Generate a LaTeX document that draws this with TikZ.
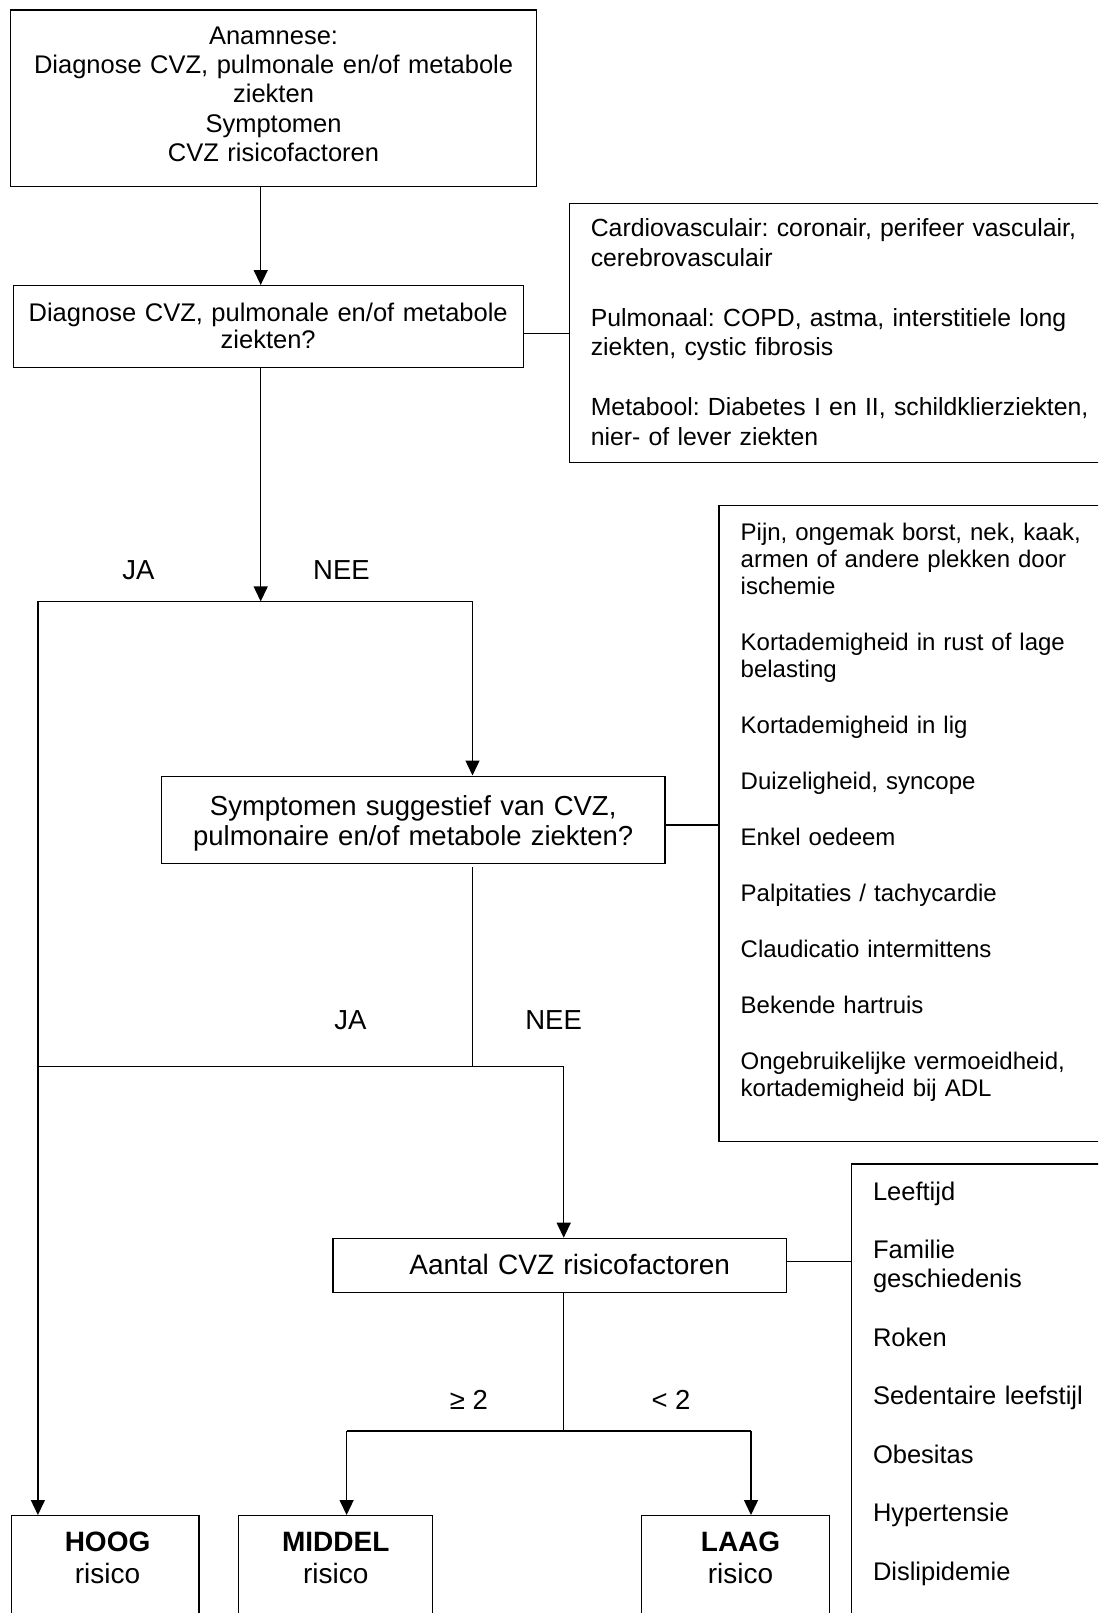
\documentclass[tikz,border=0pt]{standalone}
\usepackage{fontspec}
\setmainfont{Liberation Sans}
\usepackage{tikz}
\usetikzlibrary{arrows.meta}
\frenchspacing

\begin{document}
\begin{tikzpicture}[x=1pt, y=-1pt,
	blok/.style={draw, line width=1.4pt, anchor=north west, inner sep=0pt, align=center, font=\fontsize{25.5}{29.3}\selectfont},
	lijst/.style={draw, line width=1.4pt, anchor=north west, inner ysep=0pt, align=left, text width=520pt},
	pijl/.style={line width=1.4pt, -{Triangle[length=15pt,width=14pt]}},
	lijn/.style={line width=1.4pt},
	keuze/.style={font=\fontsize{27.5}{32}\selectfont}]
				\useasboundingbox (0,0) rectangle (1098,1613);
				\clip (0,0) rectangle (1098,1613);
				
				\node [blok, text width=525.7pt, text height=34.2pt, text depth=142.2pt] (anam) at (10,9.3) {Anamnese:\\Diagnose CVZ, pulmonale en/of metabole\\ziekten\\Symptomen\\CVZ risicofactoren};
				\node [blok, text width=510pt, text height=36pt, text depth=45.7pt, font=\fontsize{25.5}{27}\selectfont] (diag) at (12.5,285) {Diagnose CVZ, pulmonale en/of metabole\\ziekten?};
				\node [blok, text width=503.6pt, text height=39.5pt, text depth=47.6pt, font=\fontsize{27.5}{30}\selectfont] (symp) at (160.7,775.5) {Symptomen suggestief van CVZ,\\pulmonaire en/of metabole ziekten?};
				\node [blok, text width=453.4pt, text height=35.6pt, text depth=18.4pt, font=\fontsize{28}{32}\selectfont] (aant) at (332.3,1237.7) {\hspace*{20pt}Aantal CVZ risicofactoren};
				
				\node [blok, text width=187.7pt, text height=36pt, text depth=80pt, font=\fontsize{28}{32}\selectfont] (hoog) at (10.5,1515) {\hspace*{5pt}\textbf{HOOG}\\\hspace*{5pt}risico};
				\node [blok, text width=194pt, text height=36pt, text depth=80pt, font=\fontsize{28}{32}\selectfont] (middel) at (238,1515) {\textbf{MIDDEL}\\risico};
				\node [blok, text width=187.7pt, text height=36pt, text depth=80pt, font=\fontsize{28}{32}\selectfont] (laag) at (641,1515) {\hspace*{10pt}\textbf{LAAG}\\\hspace*{10pt}risico};
				
				\node [lijst, inner xsep=21.5pt, text height=33.3pt, text depth=225.7pt, font=\fontsize{24.8}{29.8}\selectfont] (card) at (568.6,202.7) {Cardiovasculair: coronair, perifeer vasculair,\\cerebrovasculair\\[29.8pt]Pulmonaal: COPD, astma, interstitiele long\\ziekten, cystic fibrosis\\[29.8pt]Metabool: Diabetes I en II, schildklierziekten,\\nier- of lever ziekten};
				\node [lijst, inner xsep=21.7pt, text height=35pt, text depth=600.7pt, font=\fontsize{24}{27}\selectfont] (sklijst) at (718.3,505) {Pijn, ongemak borst, nek, kaak,\\armen of andere plekken door\\ischemie\\[29pt]Kortademigheid in rust of lage\\belasting\\[29pt]Kortademigheid in lig\\[29pt]Duizeligheid, syncope\\[29pt]Enkel oedeem\\[29pt]Palpitaties / tachycardie\\[29pt]Claudicatio intermittens\\[29pt]Bekende hartruis\\[29pt]Ongebruikelijke vermoeidheid,\\kortademigheid bij ADL};
				\node [lijst, inner xsep=21.3pt, text height=36pt, text depth=470pt, font=\fontsize{25.5}{29}\selectfont] (rlijst) at (851,1163.3) {Leeftijd\\[29.5pt]Familie\\geschiedenis\\[29.5pt]Roken\\[29.5pt]Sedentaire leefstijl\\[29.5pt]Obesitas\\[29.5pt]Hypertensie\\[29.5pt]Dislipidemie};
				
				% % % % % % % % % % % % % % % % % % % % % % % % % %
				
				\coordinate (a1) at (260.7,601.4);
				\coordinate (s1l) at (37.9,601.4);
				\coordinate (s1r) at (472.5,601.4);
				\coordinate (s2l) at (37.9,1066.4);
				\coordinate (s2r) at (563.7,1066.4);
				\coordinate (s3m) at (563.7,1431);
				\coordinate (s3l) at (346.6,1431);
				\coordinate (s3r) at (751,1431);
				\coordinate (z1) at (0,333.3);
				\coordinate (z2) at (0,825);
				\coordinate (z3) at (0,1261.7);
				
				\draw [pijl] (anam.south -| a1) -- (diag.north -| a1);
				\draw [pijl] (diag.south -| a1) -- (a1);
				\draw [lijn] (s1l) -- (s1r);
				\draw [pijl] (s1l) -- (hoog.north -| s1l);
				\draw [pijl] (s1r) -- (symp.north -| s1r);
				\draw [lijn, shorten <=3pt] (symp.south -| s1r) -- (s2r -| s1r);
				\draw [lijn] (s2l) -- (s2r);
				\draw [pijl] (s2r) -- (aant.north -| s2r);
				\draw [lijn] (aant.south -| s3m) -- (s3m);
				\draw [lijn] (s3l) -- (s3r);
				\draw [pijl] (s3l) -- (middel.north -| s3l);
				\draw [pijl] (s3r) -- (laag.north -| s3r);
				
				\draw [lijn] (diag.east |- z1) -- (card.west |- z1);
				\draw [lijn] (symp.east |- z2) -- (sklijst.west |- z2);
				\draw [lijn] (aant.east |- z3) -- (rlijst.west |- z3);
				
				\node [keuze] (ja1) at (138.4,570) {JA};
				\node [keuze] (nee1) at (341.5,570) {NEE};
				\node [keuze] (ja2) at (350.4,1020) {JA};
				\node [keuze] (nee2) at (553.6,1020) {NEE};
				\node [keuze] (meer) at (469,1400) {≥ 2};
				\node [keuze] (minder) at (671,1400) {< 2};
\end{tikzpicture}
\end{document}
